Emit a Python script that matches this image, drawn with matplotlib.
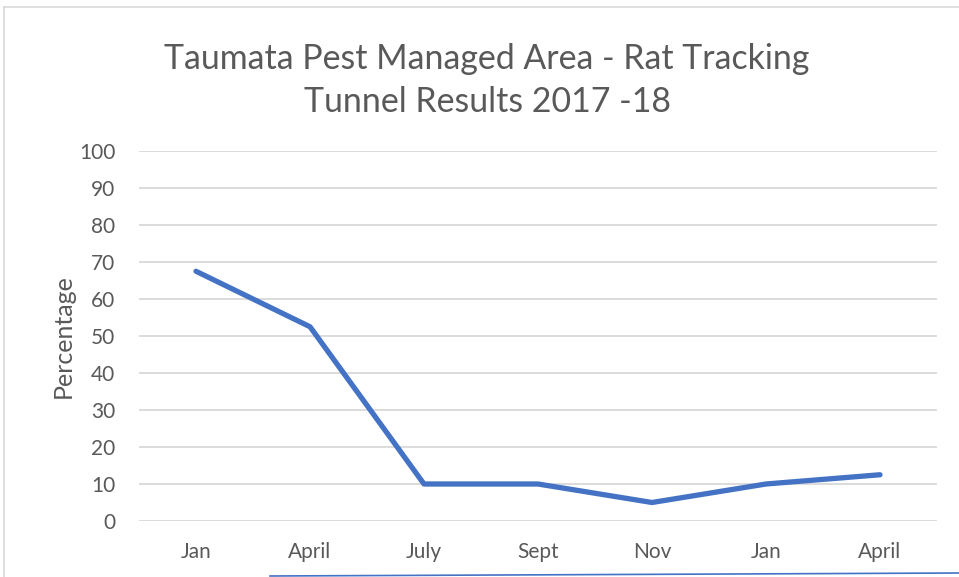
import matplotlib
matplotlib.use("Agg")
import matplotlib.pyplot as plt
from matplotlib.lines import Line2D

months = ["Jan", "April", "July", "Sept", "Nov", "Jan", "April"]
percentage = [67.5, 52.5, 10, 10, 5, 10, 12.5]
yticks = [0, 10, 20, 30, 40, 50, 60, 70, 80, 90, 100]

plt.rcParams['font.family'] = ['Lato', 'DejaVu Sans']
txt = '#595959'

fig = plt.figure(figsize=(9.59, 5.77), dpi=100)
ax = fig.add_axes([139/959, 1-521/577, 798/959, 370/577])

x = list(range(len(months)))
ax.plot(x, percentage, color='#4472C4', lw=3.8, solid_capstyle='round', solid_joinstyle='round', zorder=3)

ax.set_xlim(-0.5, len(months)-0.5)
ax.set_ylim(0, 100)
ax.set_yticks(yticks)
ax.set_xticks(x)
ax.set_xticklabels(months)
ax.yaxis.grid(True, color='#D9D9D9', lw=1.3)
ax.set_axisbelow(True)
for s in ax.spines.values():
    s.set_visible(False)
ax.tick_params(length=0, labelsize=15, colors=txt)
ax.tick_params(axis='y', pad=17)
ax.tick_params(axis='x', pad=15)
ax.set_ylabel('Percentage', fontsize=18, color=txt, labelpad=3)

fig.text(487/959, 1-59/577, 'Taumata Pest Managed Area - Rat Tracking', ha='center', va='center', fontsize=24.4, color=txt)
fig.text(487/959, 1-102/577, 'Tunnel Results 2017 -18', ha='center', va='center', fontsize=24.4, color=txt)

# chart border
fig.add_artist(Line2D([4/959, 4/959], [0, 1-7/577], transform=fig.transFigure, color='#D9D9D9', lw=1.2))
fig.add_artist(Line2D([4/959, 1], [1-7/577, 1-7/577], transform=fig.transFigure, color='#D9D9D9', lw=1.2))
# bottom blue line
fig.add_artist(Line2D([270/959, 1], [1-576/577, 1-573/577], transform=fig.transFigure, color='#4472C4', lw=1.2))

fig.savefig('out.png', dpi=100)
